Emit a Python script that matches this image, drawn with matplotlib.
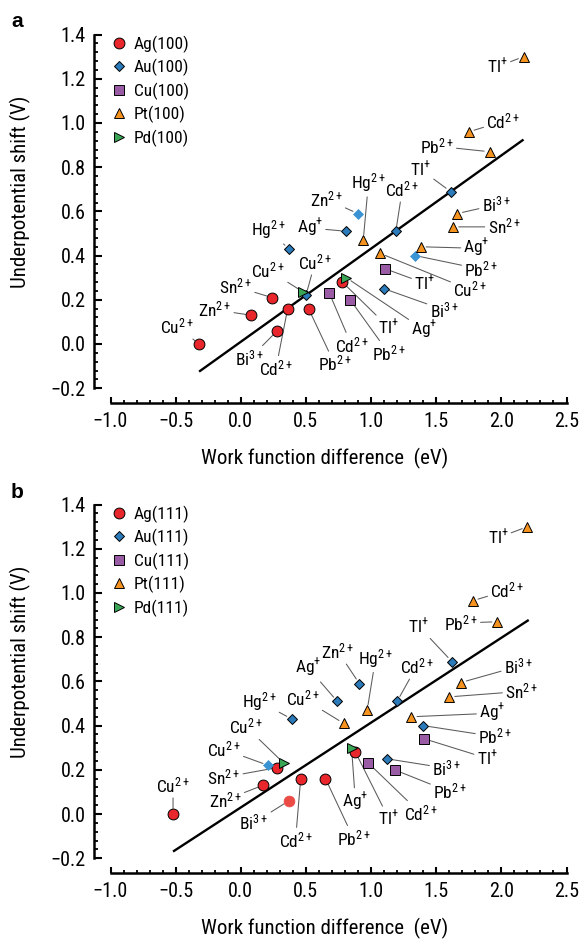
import matplotlib
matplotlib.use("Agg")
import matplotlib.pyplot as plt
from matplotlib import font_manager
from matplotlib.ticker import MultipleLocator, FuncFormatter

# ---------------- data ----------------
# Panel a: (100) surfaces
ag100_x = [-0.32, 0.08, 0.24, 0.28, 0.36, 0.52, 0.78]
ag100_y = [0.00, 0.13, 0.21, 0.06, 0.16, 0.16, 0.28]
ag100_ion = ["Cu$^{2+}$", "Zn$^{2+}$", "Sn$^{2+}$", "Bi$^{3+}$", "Cd$^{2+}$", "Pb$^{2+}$", "Tl$^{+}$"]

au100_x = [0.37, 0.50, 0.81, 0.90, 1.19, 1.61, 1.34, 1.10]
au100_y = [0.43, 0.22, 0.51, 0.59, 0.51, 0.69, 0.40, 0.25]
au100_ion = ["Hg$^{2+}$", "Cu$^{2+}$", "Ag$^{+}$", "Zn$^{2+}$", "Cd$^{2+}$", "Tl$^{+}$", "Pb$^{2+}$", "Bi$^{3+}$"]

cu100_x = [1.11, 0.68, 0.84]
cu100_y = [0.34, 0.23, 0.20]
cu100_ion = ["Tl$^{+}$", "Cd$^{2+}$", "Pb$^{2+}$"]

pt100_x = [2.17, 1.75, 1.91, 1.66, 1.63, 0.94, 1.38, 1.07]
pt100_y = [1.30, 0.96, 0.87, 0.59, 0.53, 0.47, 0.44, 0.41]
pt100_ion = ["Tl$^{+}$", "Cd$^{2+}$", "Pb$^{2+}$", "Bi$^{3+}$", "Sn$^{2+}$", "Hg$^{2+}$", "Ag$^{+}$", "Cu$^{2+}$"]

pd100_x = [0.48, 0.81]
pd100_y = [0.235, 0.30]
pd100_ion = ["Cu$^{2+}$", "Ag$^{+}$"]

fit100_x = [-0.32, 2.17]
fit100_y = [-0.125, 0.925]

# Panel b: (111) surfaces
ag111_x = [-0.52, 0.17, 0.28, 0.37, 0.46, 0.65, 0.88]
ag111_y = [0.00, 0.13, 0.21, 0.06, 0.16, 0.16, 0.28]
ag111_ion = ["Cu$^{2+}$", "Zn$^{2+}$", "Sn$^{2+}$", "Bi$^{3+}$", "Cd$^{2+}$", "Pb$^{2+}$", "Tl$^{+}$"]

au111_x = [0.21, 0.39, 0.74, 0.91, 1.20, 1.62, 1.40, 1.12]
au111_y = [0.22, 0.43, 0.51, 0.59, 0.51, 0.69, 0.40, 0.25]
au111_ion = ["Cu$^{2+}$", "Hg$^{2+}$", "Ag$^{+}$", "Zn$^{2+}$", "Cd$^{2+}$", "Tl$^{+}$", "Pb$^{2+}$", "Bi$^{3+}$"]

cu111_x = [1.41, 0.98, 1.18]
cu111_y = [0.34, 0.23, 0.20]
cu111_ion = ["Tl$^{+}$", "Cd$^{2+}$", "Pb$^{2+}$"]

pt111_x = [2.20, 1.78, 1.97, 1.69, 1.60, 0.97, 1.31, 0.79]
pt111_y = [1.30, 0.965, 0.87, 0.595, 0.53, 0.47, 0.44, 0.41]
pt111_ion = ["Tl$^{+}$", "Cd$^{2+}$", "Pb$^{2+}$", "Bi$^{3+}$", "Sn$^{2+}$", "Hg$^{2+}$", "Ag$^{+}$", "Cu$^{2+}$"]

pd111_x = [0.33, 0.85]
pd111_y = [0.23, 0.30]
pd111_ion = ["Cu$^{2+}$", "Ag$^{+}$"]

fit111_x = [-0.52, 2.21]
fit111_y = [-0.17, 0.878]

xticks = [-1.0, -0.5, 0.0, 0.5, 1.0, 1.5, 2.0, 2.5]
yticks = [-0.2, 0.0, 0.2, 0.4, 0.6, 0.8, 1.0, 1.2, 1.4]
xlabel = "Work function difference  (eV)"
ylabel = "Underpotential shift (V)"

# ---------------- layout (label offsets in data units, per point) ----------------
off_a = {
    "Ag": [(-0.17, 0.08), (-0.28, 0.025), (-0.28, 0.05), (-0.21, -0.125), (-0.09, -0.27), (0.20, -0.25), (0.355, -0.205)],
    "Au": [(-0.16, 0.087), (0.07, 0.15), (-0.28, 0.015), (-0.245, 0.065), (0.05, 0.19), (-0.23, 0.10), (0.505, -0.062), (0.46, -0.096)],
    "Cu": [(0.30, -0.065), (0.17, -0.235), (0.295, -0.242)],
    "Pt": [(-0.20, -0.045), (0.265, 0.048), (-0.405, 0.025), (0.30, 0.04), (0.39, 0.0), (0.04, 0.26), (0.43, -0.007), (0.69, -0.165)],
    "Pd": [(-0.27, 0.10), (0.60, -0.237)],
}
off_b = {
    "Ag": [(0.0, 0.13), (-0.29, -0.067), (-0.41, -0.044), (-0.27, -0.10), (-0.04, -0.278), (0.215, -0.27), (0.255, -0.30)],
    "Au": [(-0.34, 0.073), (-0.25, 0.08), (-0.22, 0.15), (-0.165, 0.146), (0.15, 0.158), (-0.255, 0.16), (0.55, -0.05), (0.46, -0.043)],
    "Cu": [(0.48, -0.088), (0.40, -0.227), (0.425, -0.10)],
    "Pt": [(-0.225, -0.05), (0.265, 0.047), (-0.28, -0.006), (0.44, 0.073), (0.555, 0.025), (0.065, 0.235), (0.62, 0.016), (-0.315, 0.114)],
    "Pd": [(-0.29, 0.165), (0.03, -0.244)],
}
# points drawn as lighter (no dark edge)
light_a = {("Au", 3), ("Au", 6)}
light_b = {("Au", 0), ("Ag", 3)}

# ---------------- fonts ----------------
avail = {f.name for f in font_manager.fontManager.ttflist}
fam = "DejaVu Sans"
for cand in ["Liberation Sans Narrow", "Roboto Condensed", "DejaVu Sans Condensed", "Liberation Sans"]:
    if cand in avail:
        fam = cand
        break
plt.rcParams["font.family"] = [fam, "DejaVu Sans"]
plt.rcParams["mathtext.fontset"] = "custom"
plt.rcParams["mathtext.rm"] = fam
plt.rcParams["mathtext.it"] = fam
plt.rcParams["mathtext.bf"] = fam
plt.rcParams["axes.unicode_minus"] = True

styles = {
    "Ag": dict(marker="o", color="#e8262b", ms=7.8),
    "Au": dict(marker="D", color="#2b7bba", ms=5.2),
    "Cu": dict(marker="s", color="#9a5ba5", ms=7.0),
    "Pt": dict(marker="^", color="#f6921e", ms=7.5),
    "Pd": dict(marker=">", color="#3aa655", ms=7.5),
}
light_col = {"Ag": "#ec4a45", "Au": "#3a93d3"}


def fmt(v, pos):
    return f"{v:.1f}".replace("-", "\u2212")


fig = plt.figure(figsize=(5.83, 9.40), dpi=100)
L, W, H = 110.5 / 583, 456 / 583, 353.6 / 940
ax_a = fig.add_axes([L, 1 - 388.2 / 940, W, H])
ax_b = fig.add_axes([L, 1 - 858.2 / 940, W, H])


def draw(ax, series, fit_x, fit_y, offs, lights, suffix):
    ax.set_xlim(-1.0, 2.5)
    ax.set_ylim(-0.2, 1.4)
    ax.plot(fit_x, fit_y, color="black", lw=1.7, zorder=2, solid_capstyle="butt")
    for name, xs, ys, ions in series:
        st = styles[name]
        ax.plot([], [], linestyle="none", marker=st["marker"], ms=st["ms"],
                mfc=st["color"], mec="black", mew=0.7, label=f"{name}({suffix})")
        for i, (x, y, ion) in enumerate(zip(xs, ys, ions)):
            if (name, i) in lights:
                ax.plot([x], [y], linestyle="none", marker=st["marker"], ms=st["ms"],
                        mfc=light_col[name], mec=light_col[name], mew=0.5, zorder=4, clip_on=False)
            else:
                ax.plot([x], [y], linestyle="none", marker=st["marker"], ms=st["ms"],
                        mfc=st["color"], mec="black", mew=0.7, zorder=4, clip_on=False)
            dx, dy = offs[name][i]
            ax.annotate(ion, xy=(x, y), xytext=(x + dx, y + dy), textcoords="data",
                        ha="center", va="center", fontsize=12.5, zorder=3,
                        arrowprops=dict(arrowstyle="-", color="#5a5a5a", lw=0.75,
                                        shrinkA=0, shrinkB=4))
    for side in ["top", "right"]:
        ax.spines[side].set_visible(False)
    ax.spines["left"].set_position(("outward", 12))
    ax.spines["bottom"].set_position(("outward", 10.8))
    ax.spines["left"].set_linewidth(1.8)
    ax.spines["bottom"].set_linewidth(1.8)
    ax.set_xticks(xticks)
    ax.set_yticks(yticks)
    ax.xaxis.set_minor_locator(MultipleLocator(0.1))
    ax.yaxis.set_minor_locator(MultipleLocator(0.04))
    ax.xaxis.set_major_formatter(FuncFormatter(fmt))
    ax.yaxis.set_major_formatter(FuncFormatter(fmt))
    ax.tick_params(axis="x", which="major", direction="in", length=4.2, width=1.5, labelsize=14.5, pad=6)
    ax.tick_params(axis="x", which="minor", direction="in", length=2.4, width=1.3)
    ax.tick_params(axis="y", which="major", direction="in", length=5.8, width=1.5, labelsize=14.5, pad=6)
    ax.tick_params(axis="y", which="minor", direction="in", length=3.0, width=1.3)
    ax.text(0.47, -0.198, xlabel, transform=ax.transAxes, ha="center", va="center", fontsize=15)
    ax.text(-0.197, 0.555, ylabel, transform=ax.transAxes, ha="center", va="center",
            rotation=90, fontsize=15)
    ax.legend(loc="upper left", bbox_to_anchor=((112.4 - 110.5) / 456, 0.998),
              frameon=False, fontsize=12.5, handlelength=0.8, handletextpad=0.42,
              borderpad=0, borderaxespad=0, labelspacing=0.36)


draw(ax_a, [("Ag", ag100_x, ag100_y, ag100_ion), ("Au", au100_x, au100_y, au100_ion),
            ("Cu", cu100_x, cu100_y, cu100_ion), ("Pt", pt100_x, pt100_y, pt100_ion),
            ("Pd", pd100_x, pd100_y, pd100_ion)], fit100_x, fit100_y, off_a, light_a, "100")
draw(ax_b, [("Ag", ag111_x, ag111_y, ag111_ion), ("Au", au111_x, au111_y, au111_ion),
            ("Cu", cu111_x, cu111_y, cu111_ion), ("Pt", pt111_x, pt111_y, pt111_ion),
            ("Pd", pd111_x, pd111_y, pd111_ion)], fit111_x, fit111_y, off_b, light_b, "111")

fig.text(17.5 / 583, 1 - 21.7 / 940, "a", fontweight="bold", fontsize=15,
         ha="center", va="center", family=["Liberation Sans", "DejaVu Sans"])
fig.text(17.5 / 583, 1 - 492.7 / 940, "b", fontweight="bold", fontsize=15,
         ha="center", va="center", family=["Liberation Sans", "DejaVu Sans"])

fig.savefig("out.png", dpi=100)
